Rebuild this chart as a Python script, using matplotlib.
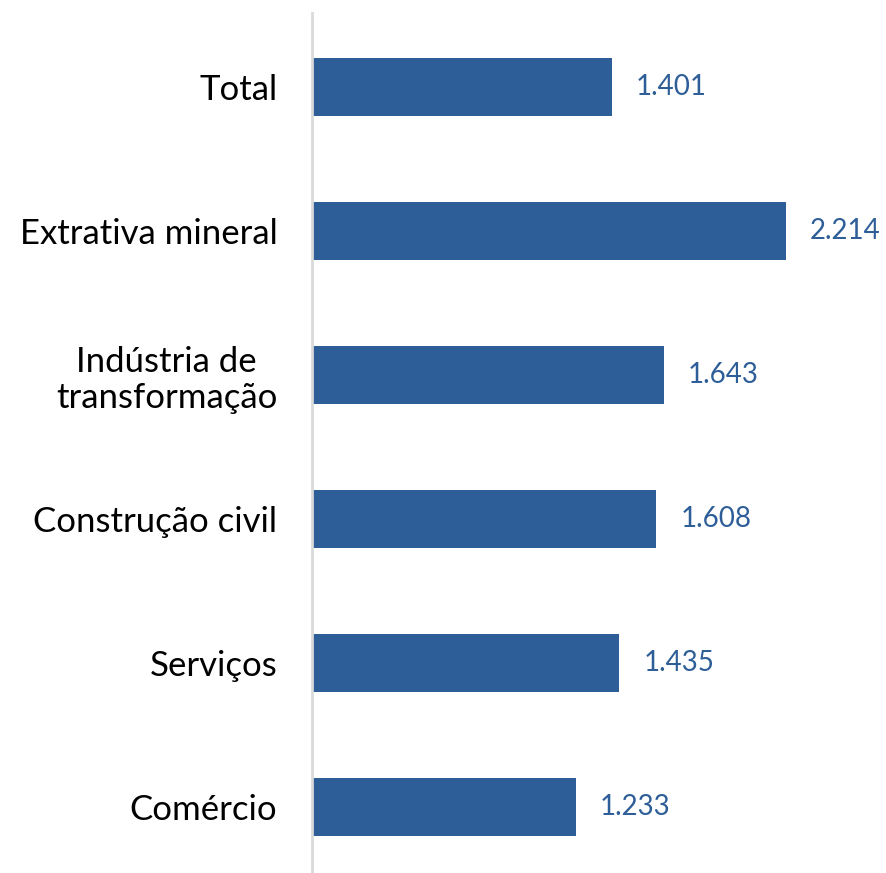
import matplotlib.pyplot as plt

# dados
categorias = [
    "Total",
    "Extrativa mineral",
    "Indústria de\ntransformação",
    "Construção civil",
    "Serviços",
    "Comércio",
]
valores = [1.401, 2.214, 1.643, 1.608, 1.435, 1.233]
rotulos = ["1.401", "2.214", "1.643", "1.608", "1.435", "1.233"]

cor_barra = "#2E5E98"

plt.rcParams["font.family"] = ["Lato", "DejaVu Sans"]

fig = plt.figure(figsize=(8.87, 8.73), dpi=100)
ax = fig.add_axes([312 / 887, 0, 1 - 312 / 887, 1 - 13 / 873])

pos = list(range(len(categorias)))
ax.barh(pos, valores, height=0.4, color=cor_barra)

for p, v, r in zip(pos, valores, rotulos):
    ax.annotate(
        r,
        xy=(v, p),
        xytext=(24, 0),
        textcoords="offset pixels",
        va="center",
        ha="left",
        fontsize=20,
        color=cor_barra,
    )

ax.set_yticks(pos)
ax.set_yticklabels(categorias, fontsize=25, linespacing=1.15)
for t in ax.get_yticklabels():
    t.set_multialignment("center")
ax.tick_params(axis="y", length=0, pad=25)
ax.set_xticks([])

ax.set_xlim(0, 575 / 214.1)
ax.set_ylim(5.458, -0.513)

for s in ["top", "right", "bottom"]:
    ax.spines[s].set_visible(False)
ax.spines["left"].set_color("#D9D9D9")
ax.spines["left"].set_linewidth(2)

plt.savefig("out.png", dpi=100)
